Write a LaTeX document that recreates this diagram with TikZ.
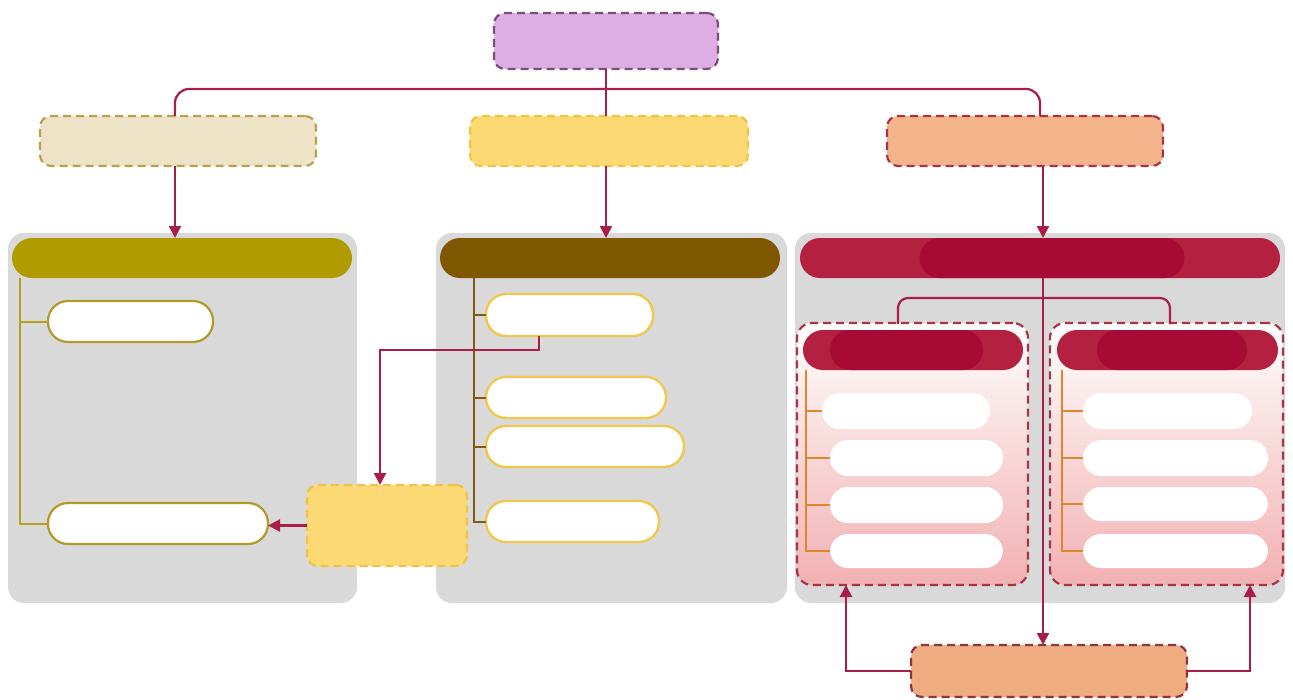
\documentclass[tikz,border=0pt]{standalone}
\usetikzlibrary{arrows.meta,calc}
\definecolor{connc}{HTML}{A81E48}
\definecolor{purpF}{HTML}{DCAEE4}
\definecolor{purpD}{HTML}{7E4C78}
\definecolor{beigeF}{HTML}{EDE3C6}
\definecolor{beigeD}{HTML}{B8A050}
\definecolor{yelF}{HTML}{FCD972}
\definecolor{yelD}{HTML}{F0C24A}
\definecolor{peachF}{HTML}{F3B48C}
\definecolor{peachD}{HTML}{A83448}
\definecolor{panelg}{HTML}{D9D9D9}
\definecolor{olive}{HTML}{B09C00}
\definecolor{brownH}{HTML}{7E5700}
\definecolor{crimO}{HTML}{B4203F}
\definecolor{crimI}{HTML}{A80A36}
\definecolor{oliveL}{HTML}{B4A020}
\definecolor{brownL}{HTML}{7F5A10}
\definecolor{pillYD}{HTML}{F0C850}
\definecolor{oliveP}{HTML}{B09A28}
\definecolor{orangeL}{HTML}{E0862A}
\definecolor{pinkB}{HTML}{F2B0B2}
\definecolor{botF}{HTML}{EFAC80}
\definecolor{botD}{HTML}{8C3444}
\begin{document}
\begin{tikzpicture}[x=1pt,y=-1pt,
  dbox/.style={draw, line width=2.2pt, dash pattern=on 8pt off 5pt, rounded corners=11pt, inner sep=0pt, outer sep=0pt},
  panel/.style={fill=panelg, rounded corners=16pt, inner sep=0pt, outer sep=0pt},
  hbar/.style={rounded corners=20pt, inner sep=0pt, outer sep=0pt},
  pillA/.style={fill=white, draw=oliveP, line width=2.2pt, rounded corners=20pt, inner sep=0pt, outer sep=0pt},
  pillB/.style={fill=white, draw=pillYD, line width=2.4pt, rounded corners=20pt, inner sep=0pt, outer sep=0pt},
  pillC/.style={fill=white, rounded corners=18pt, inner sep=0pt, outer sep=0pt},
  subp/.style={draw=peachD, line width=2.2pt, dash pattern=on 8pt off 5pt, rounded corners=15pt, top color=white, bottom color=pinkB, inner sep=0pt, outer sep=0pt},
  conn/.style={draw=connc, line width=2.2pt},
  arr/.style={conn, -{Triangle[width=12pt,length=12pt]}},
  treeA/.style={draw=oliveL, line width=2pt},
  treeB/.style={draw=brownL, line width=2pt},
  treeC/.style={draw=orangeL, line width=2pt}
]
\useasboundingbox (0,0) rectangle (1293,699);

% panels
\node[panel, minimum width=349, minimum height=370] (pA) at (182.5,418) {};
\node[panel, minimum width=351, minimum height=370] (pB) at (611.5,418) {};
\node[panel, minimum width=490, minimum height=370] (pC) at (1040,418) {};

% top and level-2 boxes
\node[dbox, fill=purpF, draw=purpD, minimum width=224, minimum height=56] (top) at (606,41) {};
\node[dbox, fill=beigeF, draw=beigeD, minimum width=276, minimum height=50] (la) at (178,141) {};
\node[dbox, fill=yelF, draw=yelD, minimum width=278, minimum height=50] (lb) at (609,141) {};
\node[dbox, fill=peachF, draw=peachD, minimum width=276, minimum height=50] (lc) at (1025,141) {};

% headers
\node[hbar, fill=olive, minimum width=340, minimum height=40] (hA) at (182,258) {};
\node[hbar, fill=brownH, minimum width=340, minimum height=40] (hB) at (610,258) {};
\node[hbar, fill=crimO, minimum width=480, minimum height=40] (hC) at (1040,258) {};
\node[hbar, fill=crimI, minimum width=265, minimum height=40] (hCi) at (1052,258) {};

% left panel pills
\node[pillA, minimum width=165, minimum height=41] (a1) at (130.5,321.5) {};
\node[pillA, minimum width=220, minimum height=41] (a2) at (158,523.5) {};
\coordinate (tA) at (20,278);
\draw[treeA] (tA) |- (a2.west);
\draw[treeA] (tA |- a1.west) -- (a1.west);

% middle panel pills
\node[pillB, minimum width=167, minimum height=42] (b1) at (569.5,315) {};
\node[pillB, minimum width=180, minimum height=41] (b2) at (576,397.5) {};
\node[pillB, minimum width=198, minimum height=41] (b3) at (585,446.5) {};
\node[pillB, minimum width=173, minimum height=41] (b4) at (572.5,521.5) {};
\coordinate (tB) at (474,278);
\draw[treeB] (tB) |- (b4.west);
\draw[treeB] (tB |- b1.west) -- (b1.west);
\draw[treeB] (tB |- b2.west) -- (b2.west);
\draw[treeB] (tB |- b3.west) -- (b3.west);

% yellow box
\node[dbox, fill=yelF, draw=yelD, minimum width=160, minimum height=81] (yb) at (387,525.5) {};

% right sub-panels
\node[subp, minimum width=231, minimum height=262] (sL) at (912.5,454) {};
\node[subp, minimum width=233, minimum height=262] (sR) at (1166.5,454) {};
\node[hbar, fill=crimO, minimum width=220, minimum height=40] (hL) at (913,350) {};
\node[hbar, fill=crimI, minimum width=153, minimum height=40] (hLi) at (906.5,350) {};
\node[hbar, fill=crimO, minimum width=221, minimum height=40] (hR) at (1167.5,350) {};
\node[hbar, fill=crimI, minimum width=150, minimum height=40] (hRi) at (1172,350) {};

\node[pillC, minimum width=168, minimum height=36] (c1) at (906,411) {};
\node[pillC, minimum width=173, minimum height=36] (c2) at (916.5,458) {};
\node[pillC, minimum width=173, minimum height=36] (c3) at (916.5,505) {};
\node[pillC, minimum width=173, minimum height=34] (c4) at (916.5,551) {};
\node[pillC, minimum width=169, minimum height=36] (d1) at (1167.5,411) {};
\node[pillC, minimum width=185, minimum height=36] (d2) at (1175.5,458) {};
\node[pillC, minimum width=185, minimum height=34] (d3) at (1175.5,504) {};
\node[pillC, minimum width=185, minimum height=34] (d4) at (1175.5,551) {};

\coordinate (tL) at (806,370);
\coordinate (tR) at (1062,370);
\draw[treeC] (tL) |- (c4.west);
\draw[treeC] (tL |- c1.west) -- (c1.west);
\draw[treeC] (tL |- c2.west) -- (c2.west);
\draw[treeC] (tL |- c3.west) -- (c3.west);
\draw[treeC] (tR) |- (d4.west);
\draw[treeC] (tR |- d1.west) -- (d1.west);
\draw[treeC] (tR |- d2.west) -- (d2.west);
\draw[treeC] (tR |- d3.west) -- (d3.west);

% bottom box
\node[dbox, fill=botF, draw=botD, minimum width=276, minimum height=52] (bot) at (1049,671) {};

% connectors
\coordinate (hj) at (607,89);
\coordinate (xl) at (175,116);
\coordinate (xr) at (1040,116);
\draw[conn] (top.south) -- (top.south |- lb.north);
\draw[conn, rounded corners=14pt] (xl) |- (hj) -| (xr);
\draw[arr] (la.south -| xl) -- (hA.north -| xl);
\draw[arr] (lb.south -| top.south) -- (hB.north -| top.south);
\coordinate (xc) at (1043,0);
\draw[arr] (lc.south -| xc) -- (hC.north -| xc);
\draw[arr] (hC.south -| xc) -- (bot.north -| xc);

\coordinate (bj) at (1043,298);
\coordinate (bl) at (898,324);
\coordinate (br) at (1170,324);
\draw[conn, rounded corners=10pt] (bl) |- (bj) -| (br);

\coordinate (k1) at (539,350);
\coordinate (k2) at (380,350);
\draw[arr] (b1.south -| k1) -- (k1) -- (k2) -- (yb.north -| k2);
\draw[arr] (yb.west) -- (yb.west -| a2.east);

\coordinate (ql) at (846,585);
\coordinate (qr) at (1250,585);
\draw[arr] (bot.west) -| (ql);
\draw[arr] (bot.east) -| (qr);
\end{tikzpicture}
\end{document}
